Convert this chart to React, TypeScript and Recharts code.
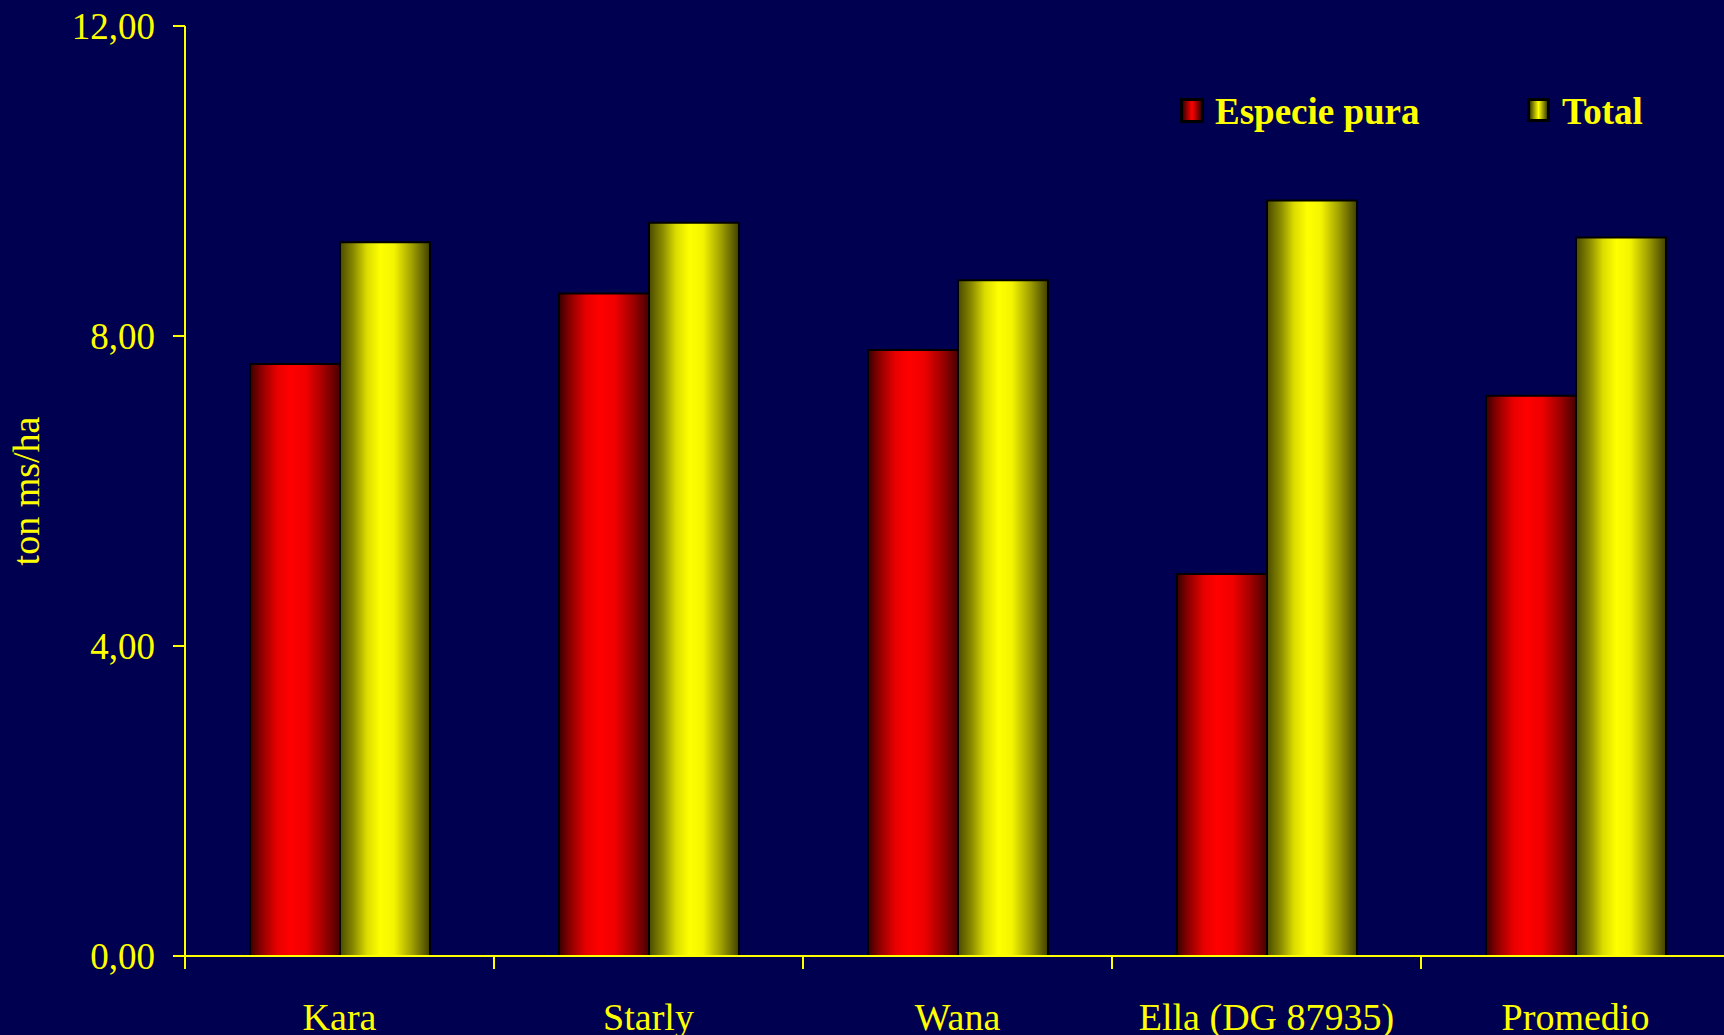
import React from 'react';
import { BarChart, Bar, XAxis, YAxis, Legend } from 'recharts';

const categories = ['Kara', 'Starly', 'Wana', 'Ella (DG 87935)', 'Promedio'];
const especiePura = [7.64, 8.55, 7.82, 4.93, 7.23];
const total = [9.21, 9.46, 8.72, 9.75, 9.27];
const yTicks = [0, 4, 8, 12];

const data = categories.map((name, i) => ({ name, especie: especiePura[i], total: total[i] }));

const BG = '#000050';
const YEL = '#ffff00';
const FONT = '"Liberation Serif", "Times New Roman", serif';

const fmt = (v: number) => v.toFixed(2).replace('.', ',');

const XTick = (props: any) => {
  const { x, y, payload } = props;
  const band = 309;
  return (
    <g>
      <line x1={x - band / 2} x2={x - band / 2} y1={y - 8} y2={y + 5} stroke={YEL} strokeWidth={2} />
      <text x={x} y={y + 66} textAnchor="middle" fill={YEL} fontFamily={FONT} fontSize={38}>
        {payload.value}
      </text>
    </g>
  );
};

const LegendContent = () => (
  <div style={{ position: 'relative', width: 540, height: 40, fontFamily: FONT }}>
    <div style={{ position: 'absolute', left: -2, top: 7, width: 18, height: 19, border: '3px solid #000', background: 'linear-gradient(to right, #400000, #ff0000 50%, #400000)' }} />
    <div style={{ position: 'absolute', left: 33, top: -1, color: YEL, fontSize: 37, fontWeight: 'bold', whiteSpace: 'nowrap', lineHeight: '44px' }}>Especie pura</div>
    <div style={{ position: 'absolute', left: 345, top: 7, width: 17, height: 18, border: '3px solid #000', background: 'linear-gradient(to right, #404000, #ffff00 50%, #404000)' }} />
    <div style={{ position: 'absolute', left: 380, top: -1, color: YEL, fontSize: 37, fontWeight: 'bold', whiteSpace: 'nowrap', lineHeight: '44px' }}>Total</div>
  </div>
);

export default function App() {
  return (
    <div style={{ position: 'absolute', left: 0, top: 0, width: 1724, height: 1035, overflow: 'hidden', background: BG }}>
      <BarChart
        width={1730}
        height={1035}
        data={data}
        margin={{ top: 26, right: 0, bottom: 0, left: 0 }}
        barCategoryGap={65}
        barGap={0}
        style={{ background: BG }}
      >
        <defs>
          <linearGradient id="gRed" x1="0" y1="0" x2="1" y2="0">
            <stop offset="0%" stopColor="#380000" />
            <stop offset="12%" stopColor="#8a0000" />
            <stop offset="30%" stopColor="#e80000" />
            <stop offset="45%" stopColor="#ff0000" />
            <stop offset="62%" stopColor="#f00000" />
            <stop offset="82%" stopColor="#a00000" />
            <stop offset="100%" stopColor="#480000" />
          </linearGradient>
          <linearGradient id="gYel" x1="0" y1="0" x2="1" y2="0">
            <stop offset="0%" stopColor="#4a4a00" />
            <stop offset="15%" stopColor="#8a8a00" />
            <stop offset="30%" stopColor="#dcdc00" />
            <stop offset="45%" stopColor="#ffff00" />
            <stop offset="60%" stopColor="#f4f400" />
            <stop offset="80%" stopColor="#a0a000" />
            <stop offset="100%" stopColor="#404000" />
          </linearGradient>
        </defs>
        <XAxis
          dataKey="name"
          height={79}
          axisLine={{ stroke: YEL, strokeWidth: 2 }}
          tickLine={false}
          tick={<XTick />}
          interval={0}
        />
        <YAxis
          width={185}
          domain={[0, 12]}
          ticks={yTicks}
          tickFormatter={fmt}
          axisLine={{ stroke: YEL, strokeWidth: 2 }}
          tickLine={{ stroke: YEL, strokeWidth: 2 }}
          tickSize={12}
          tickMargin={18}
          tick={{ fill: YEL, fontFamily: FONT, fontSize: 37 }}
          label={{
            value: 'ton ms/ha',
            angle: -90,
            position: 'insideLeft',
            offset: 0,
            dx: 26,
            fill: YEL,
            fontFamily: FONT,
            fontSize: 38,
            style: { textAnchor: 'middle' },
          }}
        />
        <Legend
          layout="horizontal"
          verticalAlign="middle"
          align="center"
          content={<LegendContent />}
          wrapperStyle={{ position: 'absolute', left: 1182, top: 91, width: 540, height: 40 }}
        />
        <Bar dataKey="especie" name="Especie pura" fill="url(#gRed)" stroke="#000" strokeWidth={2} isAnimationActive={false} />
        <Bar dataKey="total" name="Total" fill="url(#gYel)" stroke="#000" strokeWidth={2} isAnimationActive={false} />
      </BarChart>
    </div>
  );
}
